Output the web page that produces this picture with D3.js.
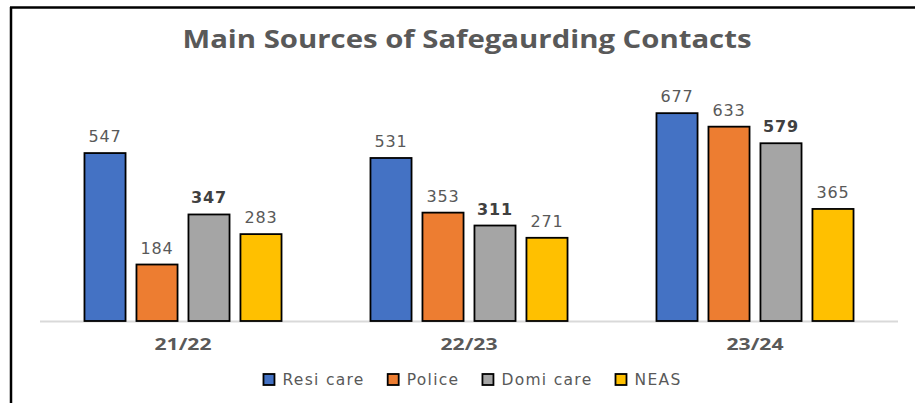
<!DOCTYPE html>
<html>
<head>
<meta charset="utf-8">
<script src="https://cdn.jsdelivr.net/npm/d3@7"></script>
<style>
  body { margin: 0; background: #fff; }
  svg { display: block; }
</style>
</head>
<body>
<div id="chart"></div>
<script>
const categories = ["21/22", "22/23", "23/24"];
const seriesNames = ["Resi care", "Police", "Domi care", "NEAS"];
const resiCare = [547, 531, 677];
const police = [184, 353, 633];
const domiCare = [347, 311, 579];
const neas = [283, 271, 365];
const colors = ["#4472C4", "#ED7D31", "#A5A5A5", "#FFC000"];

const seriesValues = [resiCare, police, domiCare, neas];

const width = 915;
const height = 403;

const svg = d3.select("#chart")
    .append("svg")
    .attr("width", width)
    .attr("height", height);

// frame lines (left + top only)
svg.append("line")
    .attr("x1", 11).attr("x2", 11)
    .attr("y1", 7).attr("y2", height)
    .attr("stroke", "#000").attr("stroke-width", 2.5);
svg.append("line")
    .attr("x1", 10).attr("x2", width)
    .attr("y1", 7.5).attr("y2", 7.5)
    .attr("stroke", "#000").attr("stroke-width", 2.5);

const plotLeft = 40, plotRight = 898, baseY = 321;

const x0 = d3.scaleBand()
    .domain(categories)
    .range([plotLeft, plotRight])
    .paddingInner(0.311)
    .paddingOuter(0.1555);

const x1 = d3.scaleBand()
    .domain(seriesNames)
    .range([0, x0.bandwidth()])
    .paddingInner(0.21);

const y = d3.scaleLinear()
    .domain([0, 800])
    .range([baseY, baseY - 800 * 0.307]);

// title
svg.append("text")
    .attr("x", 467)
    .attr("y", 48)
    .attr("text-anchor", "middle")
    .attr("font-family", "Open Sans")
    .attr("font-weight", "bold")
    .attr("font-size", 25)
    .attr("fill", "#595959")
    .attr("textLength", 569)
    .attr("lengthAdjust", "spacingAndGlyphs")
    .text("Main Sources of Safegaurding Contacts");

// axis baseline
svg.append("line")
    .attr("x1", plotLeft).attr("x2", plotRight)
    .attr("y1", baseY + 0.5).attr("y2", baseY + 0.5)
    .attr("stroke", "#d9d9d9").attr("stroke-width", 2);

const rows = categories.map((c, i) => ({
    category: c,
    values: seriesNames.map((s, j) => ({ series: s, value: seriesValues[j][i], color: colors[j] }))
}));

const group = svg.selectAll(".group")
    .data(rows)
    .join("g")
    .attr("class", "group")
    .attr("transform", d => `translate(${x0(d.category)},0)`);

group.selectAll("rect")
    .data(d => d.values)
    .join("rect")
    .attr("x", d => x1(d.series))
    .attr("y", d => y(d.value))
    .attr("width", x1.bandwidth())
    .attr("height", d => baseY - y(d.value))
    .attr("fill", d => d.color)
    .attr("stroke", "#000")
    .attr("stroke-width", 1.8);

group.selectAll(".val")
    .data(d => d.values)
    .join("text")
    .attr("class", "val")
    .attr("x", d => x1(d.series) + x1.bandwidth() / 2)
    .attr("y", d => y(d.value) - 11)
    .attr("text-anchor", "middle")
    .attr("font-family", "DejaVu Sans")
    .attr("font-size", 16)
    .attr("letter-spacing", 0.8)
    .attr("font-weight", d => d.series === "Domi care" ? "bold" : "normal")
    .attr("fill", d => d.series === "Domi care" ? "#404040" : "#595959")
    .text(d => d.value);

// category labels
svg.selectAll(".cat")
    .data(categories)
    .join("text")
    .attr("class", "cat")
    .attr("x", d => x0(d) + x0.bandwidth() / 2)
    .attr("y", 350)
    .attr("text-anchor", "middle")
    .attr("font-family", "Open Sans")
    .attr("font-weight", "bold")
    .attr("font-size", 15.5)
    .attr("fill", "#595959")
    .attr("textLength", 57)
    .attr("lengthAdjust", "spacingAndGlyphs")
    .text(d => d);

// legend
const legend = svg.append("g");
let lx = 0;
seriesNames.forEach((s, i) => {
    const item = legend.append("g").attr("transform", `translate(${lx},0)`);
    item.append("rect")
        .attr("x", 1).attr("y", -5)
        .attr("width", 11).attr("height", 11)
        .attr("fill", colors[i])
        .attr("stroke", "#000")
        .attr("stroke-width", 1.8);
    const t = item.append("text")
        .attr("x", 20)
        .attr("y", 5.5)
        .attr("font-family", "DejaVu Sans")
        .attr("font-size", 15.5)
        .attr("letter-spacing", 1.3)
        .attr("fill", "#595959")
        .text(s);
    lx += 20 + t.node().getComputedTextLength() + 22;
});
const legendWidth = lx - 22;
legend.attr("transform", `translate(${472 - legendWidth / 2},379)`);
</script>
</body>
</html>
